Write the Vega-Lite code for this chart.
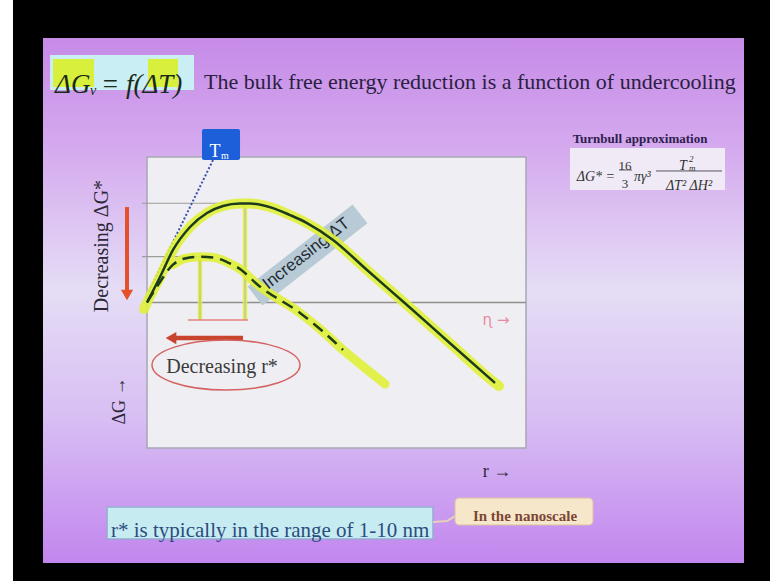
{
  "$schema": "https://vega.github.io/schema/vega-lite/v6.json",
  "width": 770,
  "height": 581,
  "autosize": {"type": "fit", "contains": "padding"},
  "padding": 0,
  "background": "#000000",
  "config": {"view": {"stroke": null}},
  "encoding": {
    "x": {"field": "r", "type": "quantitative", "scale": {"domain": [-3.879, 16.438], "nice": false, "zero": false}, "axis": null},
    "y": {"field": "g", "type": "quantitative", "scale": {"domain": [-1.914, 2.079], "nice": false, "zero": false}, "axis": null}
  },
  "layer": [
    {
      "data": {"values": [{"r": -3.879, "r2": -3.536, "g": -1.914, "g2": 2.079}]},
      "mark": {"type": "rect", "color": "#ffffff"},
      "encoding": {"x2": {"field": "r2"}, "y2": {"field": "g2"}}
    },
    {
      "data": {"values": [{"r": -2.744, "r2": 15.752, "g": -1.790, "g2": 1.818}]},
      "mark": {
        "type": "rect",
        "color": {
          "gradient": "linear", "x1": 0, "y1": 0, "x2": 0, "y2": 1,
          "stops": [
            {"offset": 0, "color": "#c68be8"},
            {"offset": 0.2, "color": "#d4a8ee"},
            {"offset": 0.48, "color": "#e5ddf5"},
            {"offset": 0.72, "color": "#d8bff3"},
            {"offset": 1, "color": "#c286ee"}
          ]
        }
      },
      "encoding": {"x2": {"field": "r2"}, "y2": {"field": "g2"}}
    },
    {
      "data": {"values": [{"r": -2.559, "r2": 1.240, "g": 1.460, "g2": 1.701}]},
      "mark": {"type": "rect", "color": "#c9eef3"},
      "encoding": {"x2": {"field": "r2"}, "y2": {"field": "g2"}}
    },
    {
      "data": {"values": [
        {"r": -2.480, "r2": -1.398, "g": 1.481, "g2": 1.674},
        {"r": 0.027, "r2": 0.818, "g": 1.481, "g2": 1.674}
      ]},
      "mark": {"type": "rect", "color": "#d8f03c"},
      "encoding": {"x2": {"field": "r2"}, "y2": {"field": "g2"}}
    },
    {
      "data": {"values": [{"r": -2.427, "g": 1.495, "t": "ΔG"}, {"r": -1.214, "g": 1.495, "t": "= f(ΔT)"}]},
      "mark": {"type": "text", "align": "left", "font": "Liberation Serif", "fontStyle": "italic", "fontSize": 27, "color": "#1a2a1a"},
      "encoding": {"text": {"field": "t"}}
    },
    {
      "data": {"values": [{"r": -1.504, "g": 1.454, "t": "v"}]},
      "mark": {"type": "text", "align": "left", "font": "Liberation Serif", "fontStyle": "italic", "fontSize": 14, "color": "#1a2a1a"},
      "encoding": {"text": {"field": "t"}}
    },
    {
      "data": {"values": [{"r": 1.504, "g": 1.515, "t": "The bulk free energy reduction is a function of undercooling"}]},
      "mark": {"type": "text", "align": "left", "font": "Liberation Serif", "fontSize": 22, "color": "#2a2040"},
      "encoding": {"text": {"field": "t"}}
    },
    {
      "data": {"values": [{"r": 13.008, "g": 1.124, "t": "Turnbull approximation"}]},
      "mark": {"type": "text", "align": "center", "font": "Liberation Serif", "fontWeight": "bold", "fontSize": 13, "color": "#2e1e4e"},
      "encoding": {"text": {"field": "t"}}
    },
    {
      "data": {"values": [{"r": 11.161, "r2": 15.251, "g": 0.773, "g2": 1.062}]},
      "mark": {"type": "rect", "color": "#efeaf5"},
      "encoding": {"x2": {"field": "r2"}, "y2": {"field": "g2"}}
    },
    {
      "data": {"values": [{"r": 12.348, "g": 0.860, "t": "ΔG* ="}]},
      "mark": {"type": "text", "align": "right", "font": "Liberation Serif", "fontStyle": "italic", "fontSize": 14, "color": "#333333"},
      "encoding": {"text": {"field": "t"}}
    },
    {
      "data": {"values": [{"r": 12.612, "g": 0.935, "t": "16"}, {"r": 12.612, "g": 0.814, "t": "3"}]},
      "mark": {"type": "text", "align": "center", "font": "Liberation Serif", "fontSize": 13, "color": "#333333"},
      "encoding": {"text": {"field": "t"}}
    },
    {
      "data": {"values": [{"r": 12.850, "g": 0.860, "t": "πγ³"}]},
      "mark": {"type": "text", "align": "left", "font": "Liberation Serif", "fontStyle": "italic", "fontSize": 14, "color": "#333333"},
      "encoding": {"text": {"field": "t"}}
    },
    {
      "data": {"values": [{"r": 14.142, "g": 0.935, "t": "T"}, {"r": 14.301, "g": 0.803, "t": "ΔT²  ΔH²"}]},
      "mark": {"type": "text", "align": "center", "font": "Liberation Serif", "fontStyle": "italic", "fontSize": 14, "color": "#333333"},
      "encoding": {"text": {"field": "t"}}
    },
    {
      "data": {"values": [{"r": 14.300, "g": 0.986, "t": "2"}, {"r": 14.300, "g": 0.924, "t": "m"}]},
      "mark": {"type": "text", "align": "left", "font": "Liberation Serif", "fontStyle": "italic", "fontSize": 9, "color": "#333333"},
      "encoding": {"text": {"field": "t"}}
    },
    {
      "data": {"values": [{"r": 12.454, "r2": 12.797, "g": 0.911}, {"r": 13.430, "r2": 15.172, "g": 0.904}]},
      "mark": {"type": "rule", "color": "#444444", "strokeWidth": 0.9},
      "encoding": {"x2": {"field": "r2"}}
    },
    {
      "data": {"values": [{"r": 0, "r2": 10, "g": -1, "g2": 1}]},
      "mark": {"type": "rect", "color": "#efeff3", "stroke": "#a8a6b6", "strokeWidth": 1.5},
      "encoding": {"x2": {"field": "r2"}, "y2": {"field": "g2"}}
    },
    {
      "data": {"values": [{"r": -0.132, "r2": 2.639, "g": 0.682}, {"r": -0.132, "r2": 1.478, "g": 0.315}]},
      "mark": {"type": "rule", "color": "#9c9c9c", "strokeWidth": 1.2},
      "encoding": {"x2": {"field": "r2"}}
    },
    {
      "data": {"values": [{"r": 0, "r2": 10, "g": 0}]},
      "mark": {"type": "rule", "color": "#8e8e8e", "strokeWidth": 1.6},
      "encoding": {"x2": {"field": "r2"}}
    },
    {
      "data": {"values": [{"r": 1.451, "r2": 2.454, "g": 0.979, "g2": 1.192}]},
      "mark": {"type": "rect", "color": "#1c5fd9", "cornerRadius": 2},
      "encoding": {"x2": {"field": "r2"}, "y2": {"field": "g2"}}
    },
    {
      "data": {"values": [{"r": 1.794, "g": 1.034, "t": "T"}]},
      "mark": {"type": "text", "align": "center", "font": "Liberation Serif", "fontSize": 18, "color": "#ffffff"},
      "encoding": {"text": {"field": "t"}}
    },
    {
      "data": {"values": [{"r": 1.953, "g": 1.007, "t": "m"}]},
      "mark": {"type": "text", "align": "left", "font": "Liberation Serif", "fontSize": 10, "color": "#ffffff"},
      "encoding": {"text": {"field": "t"}}
    },
    {
      "data": {"values": [{"r": 1.741, "g": 0.979, "r2": 0.026, "g2": 0.065}]},
      "mark": {"type": "rule", "color": "#3850b0", "strokeWidth": 2, "strokeDash": [2, 2]},
      "encoding": {"x2": {"field": "r2"}, "y2": {"field": "g2"}}
    },
    {
      "data": {"values": [{"r": 2.850, "g": 0.045, "r2": 5.620, "g2": 0.609}]},
      "mark": {"type": "rule", "color": "#b7cad6", "strokeWidth": 24, "strokeCap": "butt"},
      "encoding": {"x2": {"field": "r2"}, "y2": {"field": "g2"}}
    },
    {
      "data": {"values": [{"r": 1.398, "g": 0.315, "g2": -0.120}, {"r": 2.586, "g": 0.682, "g2": -0.120}]},
      "mark": {"type": "rule", "color": "#e2ef48", "strokeWidth": 4.5, "opacity": 0.9},
      "encoding": {"y2": {"field": "g2"}}
    },
    {
      "data": {"values": [{"r": 1.398, "g": 0.315, "g2": -0.120}, {"r": 2.586, "g": 0.682, "g2": -0.120}]},
      "mark": {"type": "rule", "color": "#b4b4a0", "strokeWidth": 1},
      "encoding": {"y2": {"field": "g2"}}
    },
    {
      "data": {"values": [{"r": 1.082, "r2": 2.665, "g": -0.120}]},
      "mark": {"type": "rule", "color": "#e48080", "strokeWidth": 1.6},
      "encoding": {"x2": {"field": "r2"}}
    },
    {
      "data": {"values": [
        {"r": 0.686, "g": 0.260}, {"r": 1.003, "g": 0.303}, {"r": 1.398, "g": 0.315}, {"r": 1.741, "g": 0.310},
        {"r": 2.111, "g": 0.278}, {"r": 2.454, "g": 0.230}, {"r": 2.929, "g": 0.120}, {"r": 4.037, "g": -0.072},
        {"r": 4.565, "g": -0.182}, {"r": 5.172, "g": -0.326}, {"r": 5.752, "g": -0.450}, {"r": 6.280, "g": -0.560}
      ]},
      "mark": {"type": "line", "color": "#e0f03a", "strokeWidth": 9, "strokeCap": "round", "opacity": 0.9, "interpolate": "monotone"},
      "encoding": {}
    },
    {
      "data": {"values": [{"r": 4.200, "g": 0.335, "t": "Increasing ΔT"}]},
      "mark": {"type": "text", "align": "center", "baseline": "middle", "angle": -38, "font": "Liberation Sans", "fontSize": 17, "color": "#1f2a33"},
      "encoding": {"text": {"field": "t"}}
    },
    {
      "data": {"values": [
        {"r": -0.079, "g": -0.045}, {"r": 0, "g": 0}, {"r": 0.343, "g": 0.175}, {"r": 0.686, "g": 0.361},
        {"r": 1.135, "g": 0.519}, {"r": 1.583, "g": 0.615}, {"r": 2.005, "g": 0.663}, {"r": 2.454, "g": 0.680},
        {"r": 2.718, "g": 0.680}, {"r": 3.325, "g": 0.649}, {"r": 3.773, "g": 0.601}, {"r": 4.222, "g": 0.546},
        {"r": 4.908, "g": 0.430}, {"r": 5.805, "g": 0.223}, {"r": 6.860, "g": -0.017}, {"r": 7.995, "g": -0.280},
        {"r": 9.182, "g": -0.553}, {"r": 9.288, "g": -0.574}
      ]},
      "mark": {"type": "line", "color": "#e0f03a", "strokeWidth": 10, "strokeCap": "round", "opacity": 0.9, "interpolate": "monotone"},
      "encoding": {}
    },
    {
      "data": {"values": [
        {"r": 0, "g": 0}, {"r": 0.343, "g": 0.175}, {"r": 0.686, "g": 0.361},
        {"r": 1.135, "g": 0.519}, {"r": 1.583, "g": 0.615}, {"r": 2.005, "g": 0.663}, {"r": 2.454, "g": 0.680},
        {"r": 2.718, "g": 0.680}, {"r": 3.325, "g": 0.649}, {"r": 3.773, "g": 0.601}, {"r": 4.222, "g": 0.546},
        {"r": 4.908, "g": 0.430}, {"r": 5.805, "g": 0.223}, {"r": 6.860, "g": -0.017}, {"r": 7.995, "g": -0.280},
        {"r": 9.182, "g": -0.553}
      ]},
      "mark": {"type": "line", "color": "#1b3b1b", "strokeWidth": 2.5, "interpolate": "monotone"},
      "encoding": {}
    },
    {
      "data": {"values": [
        {"r": 0, "g": 0}, {"r": 0.290, "g": 0.120}, {"r": 0.686, "g": 0.260}, {"r": 1.003, "g": 0.303},
        {"r": 1.398, "g": 0.315}, {"r": 1.741, "g": 0.310}, {"r": 2.111, "g": 0.278}, {"r": 2.454, "g": 0.230},
        {"r": 2.929, "g": 0.120}, {"r": 4.037, "g": -0.072}, {"r": 4.565, "g": -0.182}, {"r": 5.172, "g": -0.326}
      ]},
      "mark": {"type": "line", "color": "#1b3b1b", "strokeWidth": 2.5, "strokeDash": [12, 7], "interpolate": "monotone"},
      "encoding": {}
    },
    {
      "data": {"values": [{"r": -0.528, "g": 0.656, "g2": 0.086}]},
      "mark": {"type": "rule", "color": "#e3502b", "strokeWidth": 4},
      "encoding": {"y2": {"field": "g2"}}
    },
    {
      "data": {"values": [{"r": -0.528, "g": 0.052}]},
      "mark": {"type": "point", "shape": "triangle-down", "size": 150, "filled": true, "opacity": 1, "color": "#e3502b"},
      "encoding": {}
    },
    {
      "data": {"values": [{"r": 0.739, "r2": 2.533, "g": -0.244}]},
      "mark": {"type": "rule", "color": "#c8442c", "strokeWidth": 4.5},
      "encoding": {"x2": {"field": "r2"}}
    },
    {
      "data": {"values": [{"r": 0.633, "g": -0.244}]},
      "mark": {"type": "point", "shape": "triangle-left", "size": 150, "filled": true, "opacity": 1, "color": "#c8442c"},
      "encoding": {}
    },
    {
      "data": {"values": [{"r": 2.084, "g": -0.430}]},
      "mark": {"type": "point", "shape": "M-1,0 A1,0.338 0 1,1 1,0 A1,0.338 0 1,1 -1,0 Z", "size": 21904, "filled": false, "opacity": 1, "color": "#d46262", "strokeWidth": 1.5},
      "encoding": {}
    },
    {
      "data": {"values": [{"r": 1.979, "g": -0.443, "t": "Decreasing r*"}]},
      "mark": {"type": "text", "align": "center", "font": "Liberation Serif", "fontSize": 20, "color": "#3b3b3b"},
      "encoding": {"text": {"field": "t"}}
    },
    {
      "data": {"values": [{"r": -1.187, "g": 0.388, "t": "Decreasing ΔG*"}]},
      "mark": {"type": "text", "align": "center", "baseline": "middle", "angle": -90, "font": "Liberation Serif", "fontSize": 20, "color": "#2d2838"},
      "encoding": {"text": {"field": "t"}}
    },
    {
      "data": {"values": [{"r": -0.712, "g": -0.677, "t": "ΔG →"}]},
      "mark": {"type": "text", "align": "center", "baseline": "middle", "angle": -90, "font": "Liberation Serif", "fontSize": 18, "color": "#2d2838"},
      "encoding": {"text": {"field": "t"}}
    },
    {
      "data": {"values": [{"r": 9.235, "g": -1.165, "t": "r  →"}]},
      "mark": {"type": "text", "align": "center", "font": "Liberation Serif", "fontSize": 18, "color": "#2d2838"},
      "encoding": {"text": {"field": "t"}}
    },
    {
      "data": {"values": [{"r": 9.208, "g": -0.120, "t": "ɳ  →"}]},
      "mark": {"type": "text", "align": "center", "font": "DejaVu Sans", "fontSize": 15, "color": "#e88aa2"},
      "encoding": {"text": {"field": "t"}}
    },
    {
      "data": {"values": [{"r": -1.055, "r2": 7.546, "g": -1.625, "g2": -1.405}]},
      "mark": {"type": "rect", "color": "#c6ecf2", "stroke": "#94acd2", "strokeWidth": 1.5},
      "encoding": {"x2": {"field": "r2"}, "y2": {"field": "g2"}}
    },
    {
      "data": {"values": [{"r": -0.950, "g": -1.570, "t": "r* is typically in the range of 1-10 nm"}]},
      "mark": {"type": "text", "align": "left", "font": "Liberation Serif", "fontSize": 21, "color": "#2c4c80"},
      "encoding": {"text": {"field": "t"}}
    },
    {
      "data": {"values": [{"r": 7.546, "g": -1.509}, {"r": 7.916, "g": -1.502}, {"r": 8.179, "g": -1.460}]},
      "mark": {"type": "line", "color": "#e8d0bc", "strokeWidth": 2},
      "encoding": {}
    },
    {
      "data": {"values": [{"r": 8.127, "r2": 11.768, "g": -1.529, "g2": -1.344}]},
      "mark": {"type": "rect", "color": "#f7e7ca", "stroke": "#dcc3a2", "strokeWidth": 1, "cornerRadius": 4},
      "encoding": {"x2": {"field": "r2"}, "y2": {"field": "g2"}}
    },
    {
      "data": {"values": [{"r": 9.974, "g": -1.467, "t": "In the nanoscale"}]},
      "mark": {"type": "text", "align": "center", "font": "Liberation Serif", "fontWeight": "bold", "fontSize": 15, "color": "#7b4636"},
      "encoding": {"text": {"field": "t"}}
    }
  ]
}
